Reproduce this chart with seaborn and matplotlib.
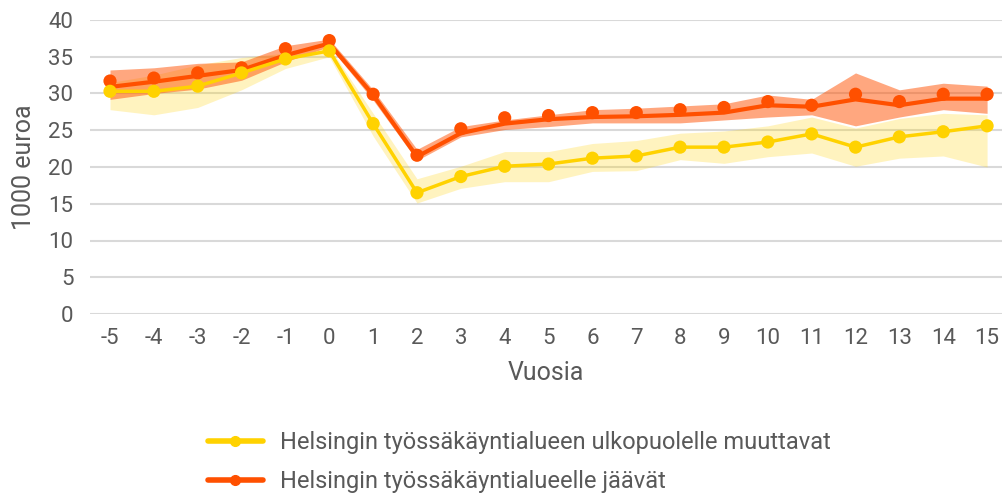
import numpy as np
import pandas as pd
import matplotlib
matplotlib.use("Agg")
import matplotlib.pyplot as plt
from matplotlib.lines import Line2D
import seaborn as sns

years = list(range(-5, 16))

# muuttavat (yellow)
moving_pts = [30.3, 30.3, 31.0, 32.8, 34.7, 35.8, 25.9, 16.5, 18.7, 20.1, 20.4, 21.2, 21.5, 22.7, 22.7, 23.4, 24.5, 22.7, 24.1, 24.8, 25.6]
moving_lo = [27.8, 27.1, 28.1, 30.5, 33.4, 35.0, 24.2, 15.1, 17.1, 18.0, 18.0, 19.4, 19.5, 21.0, 20.5, 21.4, 21.9, 20.1, 21.2, 21.5, 20.0]
moving_hi = [31.5, 32.5, 33.9, 34.9, 35.5, 36.3, 27.3, 18.4, 20.1, 22.1, 22.1, 23.2, 23.6, 24.6, 24.9, 25.6, 26.8, 25.3, 26.6, 27.3, 27.1]

# jäävät (orange)
stay_pts = [31.7, 32.1, 32.8, 33.5, 36.1, 37.2, 29.9, 21.6, 25.2, 26.7, 27.0, 27.4, 27.4, 27.8, 28.1, 28.9, 28.4, 29.9, 28.9, 29.9, 29.9]
stay_line = [30.9, 31.6, 32.4, 33.2, 35.2, 36.8, 29.8, 21.4, 24.6, 25.9, 26.5, 26.8, 26.9, 27.1, 27.4, 28.4, 28.2, 29.2, 28.4, 29.3, 29.3]
stay_lo = [29.2, 30.0, 30.6, 31.8, 34.3, 36.4, 29.1, 20.9, 24.1, 25.1, 25.5, 26.0, 26.0, 26.0, 26.4, 26.8, 27.1, 25.6, 26.8, 27.8, 27.3]
stay_hi = [33.2, 33.5, 34.1, 34.3, 36.5, 37.4, 30.5, 22.4, 25.5, 26.4, 27.1, 27.8, 28.0, 28.3, 28.6, 29.8, 29.2, 32.8, 30.5, 31.4, 31.0]

labels = ["Helsingin työssäkäyntialueen ulkopuolelle muuttavat",
          "Helsingin työssäkäyntialueelle jäävät"]
yellow = "#FFD200"
orange = "#FF5000"

df = pd.DataFrame({"vuosi": years, "m_pts": moving_pts, "s_pts": stay_pts, "s_line": stay_line})

sns.set_style("white")
plt.rcParams["font.family"] = ["Roboto", "DejaVu Sans"]
plt.rcParams["axes.unicode_minus"] = False
txt = "#595959"

fig = plt.figure(figsize=(10.02, 4.95), dpi=100)
ax = fig.add_axes([90 / 1002, (495 - 314) / 495, (1002 - 90) / 1002, 294 / 495])

ax.fill_between(years, moving_lo, moving_hi, color=yellow, alpha=0.25, lw=0, zorder=1)
ax.fill_between(years, stay_lo, stay_hi, color=orange, alpha=0.5, lw=0, zorder=2)

sns.lineplot(data=df, x="vuosi", y="s_line", color=orange, lw=3, ax=ax, zorder=3)
sns.scatterplot(data=df, x="vuosi", y="s_pts", color=orange, s=90, edgecolor="none", ax=ax, zorder=4, clip_on=False)
sns.lineplot(data=df, x="vuosi", y="m_pts", color=yellow, lw=2.5, ax=ax, zorder=5)
sns.scatterplot(data=df, x="vuosi", y="m_pts", color=yellow, s=90, edgecolor="none", ax=ax, zorder=6, clip_on=False)

ax.set_xlim(-5.456, 15.34)
ax.set_ylim(0, 40)
ax.set_yticks(range(0, 41, 5))
ax.set_xticks(years)
ax.grid(axis="y", color="#D9D9D9", lw=1.5)
ax.set_axisbelow(True)
for s in ax.spines.values():
    s.set_visible(False)
ax.tick_params(axis="both", length=0, labelsize=16, colors=txt)
ax.tick_params(axis="x", pad=10)
ax.tick_params(axis="y", pad=12)
ax.set_xlabel("Vuosia", fontsize=18, color=txt, labelpad=9)
ax.set_ylabel("1000 euroa", fontsize=18, color=txt, labelpad=9)

handles = [Line2D([], [], color=yellow, lw=4, marker="o", ms=7, solid_capstyle="round"),
           Line2D([], [], color=orange, lw=4, marker="o", ms=7, solid_capstyle="round")]
fig.legend(handles, labels, loc="upper left", bbox_to_anchor=(196 / 1002, 1 - 419 / 495),
           frameon=False, fontsize=17, handlelength=2.33, handletextpad=0.72,
           labelspacing=0.7, borderpad=0, labelcolor=txt)

fig.savefig("out.png", dpi=100)
